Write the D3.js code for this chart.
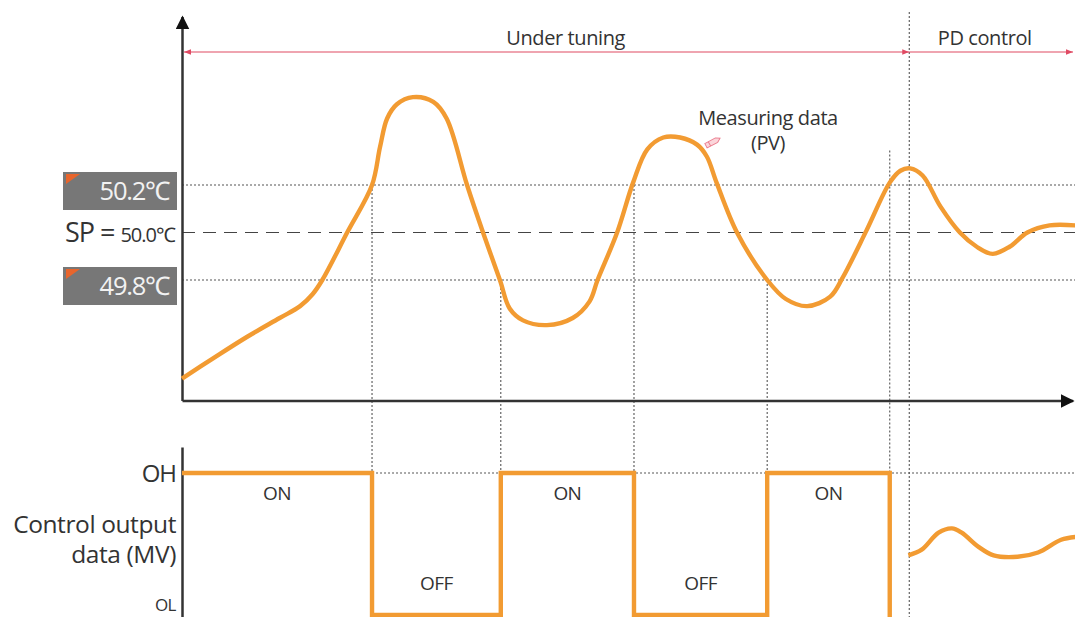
<!DOCTYPE html>
<html><head><meta charset="utf-8">
<script src="https://cdn.jsdelivr.net/npm/d3@7"></script>
<style>
body{margin:0;background:#fff;overflow:hidden}
text{font-family:"Open Sans",sans-serif;fill:#333}
</style></head><body>
<svg id="c" width="1075" height="617"></svg>
<script>
// ---- data ----
const pvTime = [0,3.5,7.3,11.0,13.3,14.7,15.8,18.6,21.4,22.3,23.1,24.2,26.0,28.3,29.8,32.1,33.9,35.8,36.9,38.4,41.1,44.0,45.9,46.8,49.0,50.8,52.4,54.2,56.1,58.0,59.1,60.2,62.5,65.9,68.0,70.4,73.0,74.4,77.1,79.7,80.9,82.0,83.4,85.4,87.6,89.5,91.3,93.2,95.2,97.7,100.6];
const pvTemp = [49.385,49.47,49.56,49.64,49.69,49.74,49.80,50.00,50.20,50.36,50.48,50.54,50.57,50.55,50.48,50.20,50.00,49.80,49.68,49.63,49.61,49.64,49.71,49.80,50.00,50.21,50.35,50.40,50.40,50.37,50.32,50.21,50.00,49.80,49.72,49.69,49.73,49.81,50.01,50.21,50.26,50.27,50.24,50.11,50.00,49.94,49.91,49.94,50.00,50.03,50.03];
const switchTimes = [21.4, 35.9, 50.9, 65.9, 79.7];
const pdStart = 81.9;
const mvTime  = [0, 21.4, 21.4, 35.9, 35.9, 50.9, 50.9, 65.9, 65.9, 79.7, 79.7];
const mvValue = [100,100,0,0,100,100,0,0,100,100,-2];
const pdTime  = [81.8,83.3,85.2,86.7,87.8,89.7,91.4,94.1,96.4,99.0,100.6];
const pdValue = [42,46,58,61,58,48,42,41,44,53,55];
const mvStates = ["ON","OFF","ON","OFF","ON"];
const limits = {high:50.2, sp:50.0, low:49.8};
const tempAxis = [49.293, 50.91];
const regionLabels = [{t:43.2,text:"Under tuning"},{t:90.4,text:"PD control"}];

// ---- scales ----
const svg = d3.select("#c");
const x = d3.scaleLinear().domain([0,100]).range([182,1070]);
const yT = d3.scaleLinear().domain([49.8,50.2]).range([280,185]);
const yM = d3.scaleLinear().domain([0,100]).range([615,473]);
const orange = "#f29b32", axisC="#333", dotC="#555", red="#e04a63";

const defs = svg.append("defs");
defs.append("marker").attr("id","ah").attr("viewBox","0 0 10 10").attr("refX",9).attr("refY",5)
  .attr("markerWidth",14).attr("markerHeight",14).attr("markerUnits","userSpaceOnUse").attr("orient","auto")
  .append("path").attr("d","M0,0L10,5L0,10Z").attr("fill","#111");
defs.append("marker").attr("id","rh").attr("viewBox","0 0 10 10").attr("refX",10).attr("refY",5)
  .attr("markerWidth",7).attr("markerHeight",7).attr("markerUnits","userSpaceOnUse").attr("orient","auto-start-reverse")
  .append("path").attr("d","M0,1L10,5L0,9Z").attr("fill",red);

// reference lines (dotted)
const xEnd = 1075;
[limits.high, limits.low].forEach(v=>{
  svg.append("line").attr("x1",x(0)).attr("x2",xEnd).attr("y1",yT(v)).attr("y2",yT(v))
    .attr("stroke",dotC).attr("stroke-width",1.1).attr("stroke-dasharray","2,2");
});
svg.append("line").attr("x1",x(0)).attr("x2",xEnd).attr("y1",yT(limits.sp)).attr("y2",yT(limits.sp))
  .attr("stroke","#444").attr("stroke-width",1.1).attr("stroke-dasharray","13,8");
// OH dotted
svg.append("line").attr("x1",x(switchTimes[0])).attr("x2",xEnd).attr("y1",yM(100)).attr("y2",yM(100))
  .attr("stroke",dotC).attr("stroke-width",1.1).attr("stroke-dasharray","2,2");
// vertical dotted
const vStart = [limits.high, limits.low, limits.high, limits.low, 50.345];
switchTimes.forEach((t,i)=>{
  svg.append("line").attr("x1",x(t)).attr("x2",x(t)).attr("y1",yT(vStart[i])).attr("y2",617)
    .attr("stroke",dotC).attr("stroke-width",1.1).attr("stroke-dasharray","2,2");
});
svg.append("line").attr("x1",x(pdStart)).attr("x2",x(pdStart)).attr("y1",12).attr("y2",617)
  .attr("stroke",dotC).attr("stroke-width",1.1).attr("stroke-dasharray","2,2");

// axes
const yAxis = d3.axisLeft(d3.scaleLinear().domain(tempAxis).range([yT(tempAxis[0]), yT(tempAxis[1])])).tickValues([]).tickSizeOuter(0);
const gy = svg.append("g").attr("transform",`translate(${x(0)},0)`).call(yAxis);
gy.select(".domain").attr("stroke",axisC).attr("stroke-width",2.5).attr("marker-end","url(#ah)");
const gy2 = svg.append("g").attr("transform",`translate(${x(0)},0)`).call(d3.axisLeft(d3.scaleLinear().domain([-2,124]).range([617,447])).tickValues([]).tickSizeOuter(0));
gy2.select(".domain").attr("stroke",axisC).attr("stroke-width",2.5);
const xAxis = d3.axisBottom(d3.scaleLinear().domain([0,100.3]).range([x(0),x(100.3)])).tickValues([]).tickSizeOuter(0);
const gx = svg.append("g").attr("transform",`translate(0,${yT(tempAxis[0])})`).call(xAxis);
gx.select(".domain").attr("stroke",axisC).attr("stroke-width",2.5).attr("marker-end","url(#ah)");

// region arrows
const ry = 52;
svg.append("line").attr("x1",x(0)+2).attr("x2",x(pdStart)).attr("y1",ry).attr("y2",ry)
  .attr("stroke",red).attr("stroke-width",1.2).attr("marker-start","url(#rh)").attr("marker-end","url(#rh)");
svg.append("line").attr("x1",x(pdStart)).attr("x2",1073).attr("y1",ry).attr("y2",ry)
  .attr("stroke",red).attr("stroke-width",1.2).attr("marker-end","url(#rh)");
regionLabels.forEach(r=>{
  svg.append("text").attr("x",x(r.t)).attr("y",45).attr("text-anchor","middle")
    .attr("font-size",20).attr("letter-spacing",-0.4).text(r.text);
});

// PV curve
const line = d3.line().x((d,i)=>x(pvTime[i])).y((d,i)=>yT(pvTemp[i])).curve(d3.curveCatmullRom.alpha(0.5));
svg.append("path").attr("d",line(pvTime)).attr("fill","none").attr("stroke",orange).attr("stroke-width",4.4).attr("stroke-linejoin","round");

// MV square wave
const mvLine = d3.line().x((d,i)=>x(mvTime[i])).y((d,i)=>yM(mvValue[i]));
svg.append("path").attr("d",mvLine(mvTime)).attr("fill","none").attr("stroke",orange).attr("stroke-width",4.4);
const pdLine = d3.line().x((d,i)=>x(pdTime[i])).y((d,i)=>yM(pdValue[i])).curve(d3.curveCatmullRom.alpha(0.5));
svg.append("path").attr("d",pdLine(pdTime)).attr("fill","none").attr("stroke",orange).attr("stroke-width",4.4);

// ON/OFF labels
const bounds = [0].concat(switchTimes);
mvStates.forEach((s,i)=>{
  const tm = (bounds[i]+bounds[i+1])/2;
  svg.append("text").attr("x",x(tm)).attr("y", s==="ON"?500:590).attr("text-anchor","middle")
    .attr("font-size",19).attr("letter-spacing",-0.6).text(s);
});

// Measuring data label
svg.append("text").attr("x",768).attr("y",125).attr("text-anchor","middle").attr("font-size",20).attr("letter-spacing",-0.4).text("Measuring data");
svg.append("text").attr("x",768).attr("y",150).attr("text-anchor","middle").attr("font-size",20).attr("letter-spacing",-0.4).text("(PV)");
// pen icon
const pen = svg.append("g").attr("transform","translate(713,142) rotate(-28)");
pen.append("path").attr("d","M-8,-2.5L4,-2.5L8,0L4,2.5L-8,2.5Z").attr("fill","#fbd6db").attr("stroke","#ea7a8c").attr("stroke-width",0.9);
pen.append("line").attr("x1",-4).attr("x2",-4).attr("y1",-2.5).attr("y2",2.5).attr("stroke","#ea7a8c").attr("stroke-width",0.9);

// left boxes
[[limits.high,"50.2℃"],[limits.low,"49.8℃"]].forEach(([v,t])=>{
  const cy = yT(v) + 6;
  svg.append("rect").attr("x",63).attr("y",cy-19).attr("width",114).attr("height",38).attr("fill","#777");
  svg.append("path").attr("d",`M66,${cy-17}L80,${cy-17}L66,${cy-7}Z`).attr("fill","#e8652c");
  svg.append("text").attr("x",169).attr("y",cy+9).attr("text-anchor","end").attr("font-size",25.5)
    .attr("letter-spacing",-1.2).style("fill","#f2f2f2").text(t);
});
const sp = svg.append("text").attr("x",175).attr("y",yT(limits.sp)+9).attr("text-anchor","end").attr("letter-spacing",-1);
sp.append("tspan").attr("font-size",27).text("SP = ");
sp.append("tspan").attr("font-size",20).text("50.0℃");

// lower left labels
svg.append("text").attr("x",176).attr("y",yM(100)+9).attr("text-anchor","end").attr("font-size",24).attr("letter-spacing",-1).text("OH");
svg.append("text").attr("x",176).attr("y",533).attr("text-anchor","end").attr("font-size",24.5).attr("letter-spacing",-0.4).text("Control output");
svg.append("text").attr("x",176).attr("y",563).attr("text-anchor","end").attr("font-size",24.5).attr("letter-spacing",-0.4).text("data (MV)");
svg.append("text").attr("x",176).attr("y",611).attr("text-anchor","end").attr("font-size",17).attr("letter-spacing",-0.5).text("OL");
</script>
</body></html>
